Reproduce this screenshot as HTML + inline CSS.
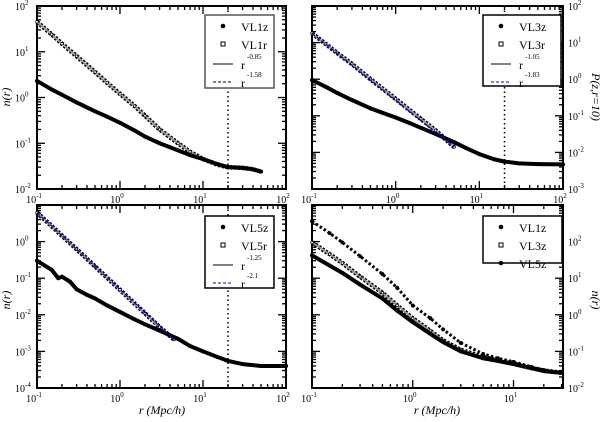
<!DOCTYPE html>
<html><head><meta charset="utf-8"><style>
html,body{margin:0;padding:0;background:#fff;}
svg{display:block;font-family:"Liberation Serif",serif;}
</style></head><body>
<svg id="c" width="600" height="422" viewBox="0 0 600 422" xmlns="http://www.w3.org/2000/svg"></svg>
<script>
// ---- data ----
const xTL = [0.1,0.15,0.2,0.3,0.5,0.7,1,1.5,2,3,5,7,10,15,20,30,40,50];
const vl1z = [2.3,1.5,1.15,0.78,0.5,0.38,0.28,0.19,0.14,0.1,0.07,0.055,0.045,0.035,0.03,0.029,0.027,0.024];
const vl1r = [45,24,15,8,3.6,2.1,1.2,0.65,0.4,0.2,0.1,0.065,0.045,0.034,0.03,0.029,0.027,0.024];
const xTR = [0.1,0.15,0.2,0.3,0.5,0.7,1,1.5,2,3,5,7,10,15,20,30,50,100];
const vl3z = [0.95,0.6,0.42,0.27,0.16,0.12,0.09,0.062,0.047,0.032,0.019,0.013,0.009,0.0065,0.0056,0.005,0.0048,0.0047];
const xTRr = [0.1,0.2,0.3,0.5,1,2,3,5];
const vl3r = [18,5.2,2.6,1.0,0.29,0.082,0.04,0.014];
const fitTR = {a:18, x0:0.1, p:-1.83, x1:5};
const xBL = [0.1,0.15,0.18,0.2,0.25,0.3,0.4,0.5,0.7,1,1.5,2,3,5,7,10,15,20,30,50,100];
const vl5z = [0.3,0.17,0.1,0.11,0.08,0.05,0.035,0.028,0.018,0.012,0.0075,0.0055,0.0037,0.0022,0.0014,0.001,0.0007,0.00055,0.00045,0.0004,0.0004];
const xBLr = [0.1,0.2,0.3,0.5,1,2,3,4.5];
const vl5r = [6.2,1.45,0.62,0.21,0.048,0.011,0.0046,0.0021];
const fitBL = {a:6.2, x0:0.1, p:-2.1, x1:4.5};
const xBR = [0.1,0.15,0.2,0.3,0.5,0.7,1,1.5,2,3,5,7,10,15,20,30];
const br1 = [42,22,14,6.7,2.8,1.3,0.63,0.3,0.18,0.1,0.065,0.055,0.045,0.035,0.029,0.026];
const br3 = [95,45,26,11,4,1.8,0.8,0.36,0.2,0.11,0.07,0.057,0.046,0.035,0.03,0.026];
const br5 = [360,170,95,40,13,5.5,1.8,0.8,0.4,0.17,0.085,0.065,0.052,0.038,0.031,0.027];

const NS="http://www.w3.org/2000/svg";
const svg=document.getElementById('c');
function mk(t,a,p){const e=document.createElementNS(NS,t);for(const k in a)e.setAttribute(k,a[k]);(p||svg).appendChild(e);return e;}
function lg(v){return Math.log10(v);}

function panel(o){
  const g=mk('g',{});
  
  
  const X=v=>o.L+(lg(v)-o.xr[0])/(o.xr[1]-o.xr[0])*(o.R-o.L);
  const Y=v=>o.B-(lg(v)-o.yr[0])/(o.yr[1]-o.yr[0])*(o.B-o.T);
  const ax=mk('g',{},g);
  
  
  for(let d=Math.floor(o.xr[0]);d<=Math.ceil(o.xr[1]);d++){
    for(let m=1;m<10;m++){
      const lv=d+Math.log10(m); if(lv<o.xr[0]-1e-9||lv>o.xr[1]+1e-9)continue;
      const x=o.L+(lv-o.xr[0])/(o.xr[1]-o.xr[0])*(o.R-o.L);
      const len=m==1?8:4;
      mk('line',{x1:x,x2:x,y1:o.B,y2:o.B-len,stroke:'#000','stroke-width':1.3},ax);
      mk('line',{x1:x,x2:x,y1:o.T,y2:o.T+len,stroke:'#000','stroke-width':1.3},ax);
      if(m==1){const t=mk('text',{x:x-3,y:o.B+14,'font-size':10,'text-anchor':'middle'},ax);t.textContent='10';
        const s=mk('tspan',{dy:-5,'font-size':7},t);s.textContent=String(d);
        }
    }
  }
  for(let d=Math.floor(o.yr[0]);d<=Math.ceil(o.yr[1]);d++){
    for(let m=1;m<10;m++){
      const lv=d+Math.log10(m); if(lv<o.yr[0]-1e-9||lv>o.yr[1]+1e-9)continue;
      const y=o.B-(lv-o.yr[0])/(o.yr[1]-o.yr[0])*(o.B-o.T);
      const len=m==1?8:4;
      mk('line',{x1:o.L,x2:o.L+len,y1:y,y2:y,stroke:'#000','stroke-width':1.3},ax);
      mk('line',{x1:o.R,x2:o.R-len,y1:y,y2:y,stroke:'#000','stroke-width':1.3},ax);
      if(m==1 && !(o.skipTop && d==o.yr[1])){
        const tx=o.right?o.R+5:o.L-22;
        const t=mk('text',{x:tx,y:y+4,'font-size':10},ax);t.textContent='10';
        const s=mk('tspan',{dy:-5,'font-size':7},t);s.textContent=String(d);
        }
    }
  }
  mk('rect',{x:o.L,y:o.T,width:o.R-o.L,height:o.B-o.T,fill:'none',stroke:'#000','stroke-width':2},ax);
  if(o.vline){const vx=X(o.vline);const l=mk('line',{x1:vx,x2:vx,y1:o.T,y2:o.B,stroke:'#000','stroke-width':1.5,'stroke-dasharray':'1.5,3'},g);
    }
  o.series.forEach(s=>{
    const sg=mk('g',{},g);
    
    
    const pts=s.x.map((xv,i)=>X(xv)+','+Y(s.y[i])).join(' ');
    if(s.type=='dot') mk('polyline',{points:pts,fill:'none',stroke:'#000','stroke-width':4,'stroke-linejoin':'round','stroke-linecap':'round'},sg);
    if(s.type=='sq'){mk('polyline',{points:pts,fill:'none',stroke:'#000','stroke-width':4.5,'stroke-dasharray':'2.5,1.5'},sg);
      mk('polyline',{points:pts,fill:'none',stroke:'#999','stroke-width':1.8},sg);}
    if(s.type=='sdot'){mk('polyline',{points:pts,fill:'none',stroke:'#000','stroke-width':3,'stroke-dasharray':'2.5,2.2'},sg);}
    s.x.forEach((xv,i)=>{const c=mk('circle',{cx:X(xv),cy:Y(s.y[i]),r:s.type=='sq'?1.3:1.6,fill:s.type=='sq'?'#fff':'#000',stroke:'#000','stroke-width':0.7},sg);
      });
  });
  if(o.fit){const f=o.fit;const l=mk('line',{x1:X(f.x0),y1:Y(f.a),x2:X(f.x1),y2:Y(f.a*Math.pow(f.x1/f.x0,f.p)),stroke:'#0000dd','stroke-width':1.2,'stroke-dasharray':'4,2'},g);
    }
  const lgd=mk('g',{},g);
  
  
  const b=o.leg;
  mk('rect',{x:b.x,y:b.y,width:b.w,height:b.h,fill:'#fff',stroke:b.stroke||'#000','stroke-width':1.5},lgd);
  b.items.forEach((it,i)=>{
    const yy=b.y+11+i*18;
    const e=mk('g',{},lgd);
    
    
    if(it.k=='dot')mk('circle',{cx:b.x+18,cy:yy,r:2.3,fill:'#000'},e);
    if(it.k=='sq')mk('rect',{x:b.x+16,y:yy-2,width:4,height:4,fill:'#fff',stroke:'#000','stroke-width':1},e);
    if(it.k=='solid')mk('line',{x1:b.x+8,x2:b.x+28,y1:yy+2,y2:yy+2,stroke:'#000','stroke-width':1},e);
    if(it.k=='dash')mk('line',{x1:b.x+8,x2:b.x+28,y1:yy+2,y2:yy+2,stroke:it.c||'#000','stroke-width':1,'stroke-dasharray':'3,2'},e);
    const t=mk('text',{x:b.x+36,y:it.sup?yy+7:yy+5,'font-size':12},e);t.textContent=it.t;
    if(it.sup){const s=mk('text',{x:b.x+42,y:yy-3,'font-size':7},e);s.textContent=it.sup;}
  });
  return g;
}

panel({name:'panel-vl1',L:37,R:286,T:6,B:189,xr:[-1,2],yr:[-2,2],vline:20,
  series:[{name:'series-vl1r',type:'sq',x:xTL,y:vl1r},{name:'series-vl1z',type:'dot',x:xTL,y:vl1z}],
  leg:{x:205,y:15,w:69,h:73,stroke:'#555',items:[{k:'dot',t:'VL1z'},{k:'sq',t:'VL1r'},{k:'solid',t:'r',sup:'-0.85'},{k:'dash',t:'r',sup:'-1.58'}]}});
panel({name:'panel-vl3',L:312,R:563,T:6,B:189,xr:[-1,2],yr:[-3,2],vline:20,right:true,fit:fitTR,
  series:[{name:'series-vl3r',type:'sq',x:xTRr,y:vl3r},{name:'series-vl3z',type:'dot',x:xTR,y:vl3z}],
  leg:{x:483,y:15,w:78,h:71,items:[{k:'dot',t:'VL3z'},{k:'sq',t:'VL3r'},{k:'solid',t:'r',sup:'-1.05'},{k:'dash',c:'#0000dd',t:'r',sup:'-1.83'}]}});
panel({name:'panel-vl5',L:37,R:286,T:205,B:388,xr:[-1,2],yr:[-4,1],vline:20,skipTop:true,fit:fitBL,
  series:[{name:'series-vl5r',type:'sq',x:xBLr,y:vl5r},{name:'series-vl5z',type:'dot',x:xBL,y:vl5z}],
  leg:{x:205,y:216,w:69,h:72,items:[{k:'dot',t:'VL5z'},{k:'sq',t:'VL5r'},{k:'solid',t:'r',sup:'-1.25'},{k:'dash',c:'#0000dd',t:'r',sup:'-2.1'}]}});
panel({name:'panel-compare',L:312,R:563,T:205,B:388,xr:[-1,Math.log10(31)],yr:[-2,3],right:true,skipTop:true,
  series:[{name:'series-vl5z',type:'sdot',x:xBR,y:br5},{name:'series-vl3z',type:'sq',x:xBR,y:br3},{name:'series-vl1z',type:'dot',x:xBR,y:br1}],
  leg:{x:483,y:216,w:79,h:47,items:[{k:'dot',t:'VL1z'},{k:'sq',t:'VL3z'},{k:'dot',t:'VL5z'}]}});

function title(txt,x,y,rot,name){const t=mk('text',{x:x,y:y,'font-size':12,'font-style':'italic','text-anchor':'middle',transform:rot?`rotate(${rot} ${x} ${y})`:''});t.textContent=txt;
  }
title('n(r)',10,97,-90,'y-axis-title');
title('n(r)',10,300,-90,'y-axis-title');
title('P(z,r=10)',592,97,90,'y-axis-title');
title('n(r)',592,300,90,'y-axis-title');
title('r (Mpc/h)',162,414,0,'x-axis-title');
title('r (Mpc/h)',437,414,0,'x-axis-title');
</script>
</body></html>
